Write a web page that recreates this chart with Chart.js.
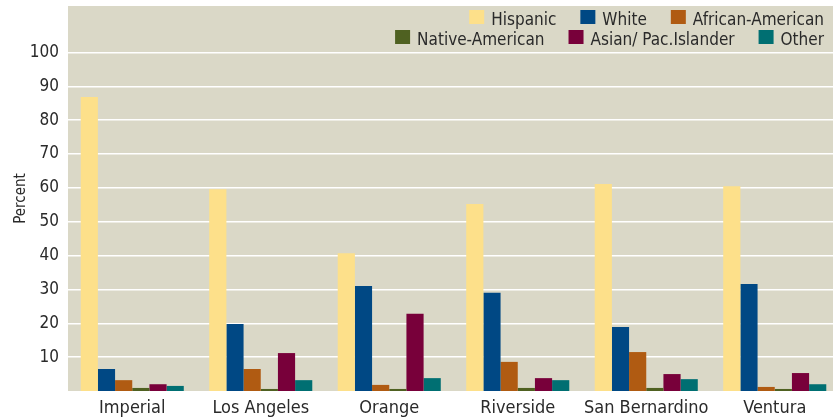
<!DOCTYPE html>
<html>
<head>
<meta charset="utf-8">
<script src="https://cdn.jsdelivr.net/npm/chart.js@4/dist/chart.umd.min.js"></script>
<style>
    html, body { margin: 0; padding: 0; background: #fff; overflow: hidden; }
    #wrap { width: 839px; height: 420px; }
</style>
</head>
<body>
<div id="wrap"><canvas id="c"></canvas></div>
<script>
const categories = ['Imperial', 'Los Angeles', 'Orange', 'Riverside', 'San Bernardino', 'Ventura'];
const hispanic = [86.8, 59.6, 40.7, 55.2, 61.1, 60.5];
const white = [6.5, 19.8, 31.0, 29.0, 18.9, 31.6];
const africanAmerican = [3.2, 6.5, 1.8, 8.6, 11.5, 1.2];
const nativeAmerican = [0.9, 0.6, 0.6, 0.9, 0.9, 0.6];
const asianPacIslander = [2.0, 11.2, 22.8, 3.8, 5.0, 5.3];
const other = [1.5, 3.2, 3.8, 3.2, 3.5, 2.0];
const yTicks = [10, 20, 30, 40, 50, 60, 70, 80, 90, 100];

const FONT = '"Liberation Sans Narrow", "Arial Narrow", "DejaVu Sans Condensed", sans-serif';
const TEXT = '#2a2a2a';

// plot background
const bgPlugin = {
    id: 'bg',
    beforeDraw(chart) {
        const { ctx, chartArea: a } = chart;
        ctx.save();
        ctx.fillStyle = '#dad8c7';
        ctx.fillRect(a.left, a.top, a.right - a.left, a.bottom - a.top);
        ctx.restore();
    }
};

// two-row legend inside the plot, right aligned
const legendPlugin = {
    id: 'rowsLegend',
    afterDraw(chart) {
        const { ctx } = chart;
        const sets = chart.data.datasets;
        const rows = [[0, 1, 2], [3, 4, 5]];
        const baselines = [25, 45];
        ctx.save();
        ctx.font = '17px ' + FONT;
        ctx.textBaseline = 'alphabetic';
        rows.forEach((row, r) => {
            let x = 824;
            for (let k = row.length - 1; k >= 0; k--) {
                const ds = sets[row[k]];
                const w = ctx.measureText(ds.label).width;
                x -= w;
                ctx.fillStyle = TEXT;
                ctx.fillText(ds.label, x, baselines[r]);
                x -= 7 + 15;
                ctx.fillStyle = ds.backgroundColor;
                ctx.fillRect(x, baselines[r] - 15, 15, 14);
                x -= 24;
            }
        });
        ctx.restore();
    }
};

function ds(label, data, color) {
    return { label, data, backgroundColor: color, borderWidth: 0 };
}

new Chart(document.getElementById('c'), {
    type: 'bar',
    data: {
        labels: categories,
        datasets: [
            ds('Hispanic', hispanic, '#fde08a'),
            ds('White', white, '#004884'),
            ds('African-American', africanAmerican, '#b05b12'),
            ds('Native-American', nativeAmerican, '#4f6121'),
            ds('Asian/ Pac.Islander', asianPacIslander, '#78003a'),
            ds('Other', other, '#006f72')
        ]
    },
    options: {
        responsive: true,
        maintainAspectRatio: false,
        animation: false,
        devicePixelRatio: 1,
        layout: { padding: { top: 6, right: 0, left: 0, bottom: 0 } },
        datasets: {
            bar: { categoryPercentage: 0.802, barPercentage: 1.0 }
        },
        plugins: {
            legend: { display: false },
            tooltip: { enabled: false }
        },
        scales: {
            x: {
                grid: { display: false, drawTicks: false },
                border: { display: false },
                ticks: {
                    color: TEXT,
                    font: { family: FONT, size: 18 },
                    padding: 7,
                    maxRotation: 0,
                    autoSkip: false
                },
                afterFit(scale) {
                    scale.height = 29;
                    scale.paddingLeft = 0;
                    scale.paddingRight = 0;
                }
            },
            y: {
                min: 0,
                max: 113.7,
                grid: { color: '#ffffff', lineWidth: 1.5, drawTicks: false },
                border: { display: false },
                ticks: {
                    color: TEXT,
                    font: { family: FONT, size: 17 },
                    padding: 9
                },
                afterBuildTicks(scale) {
                    scale.ticks = yTicks.map(v => ({ value: v }));
                },
                title: {
                    display: true,
                    text: 'Percent',
                    color: TEXT,
                    font: { family: FONT, size: 15 },
                    padding: { top: 12, bottom: 0 }
                },
                afterFit(scale) {
                    scale.width = 68;
                    scale.paddingTop = 0;
                    scale.paddingBottom = 0;
                }
            }
        }
    },
    plugins: [bgPlugin, legendPlugin]
});
</script>
</body>
</html>
